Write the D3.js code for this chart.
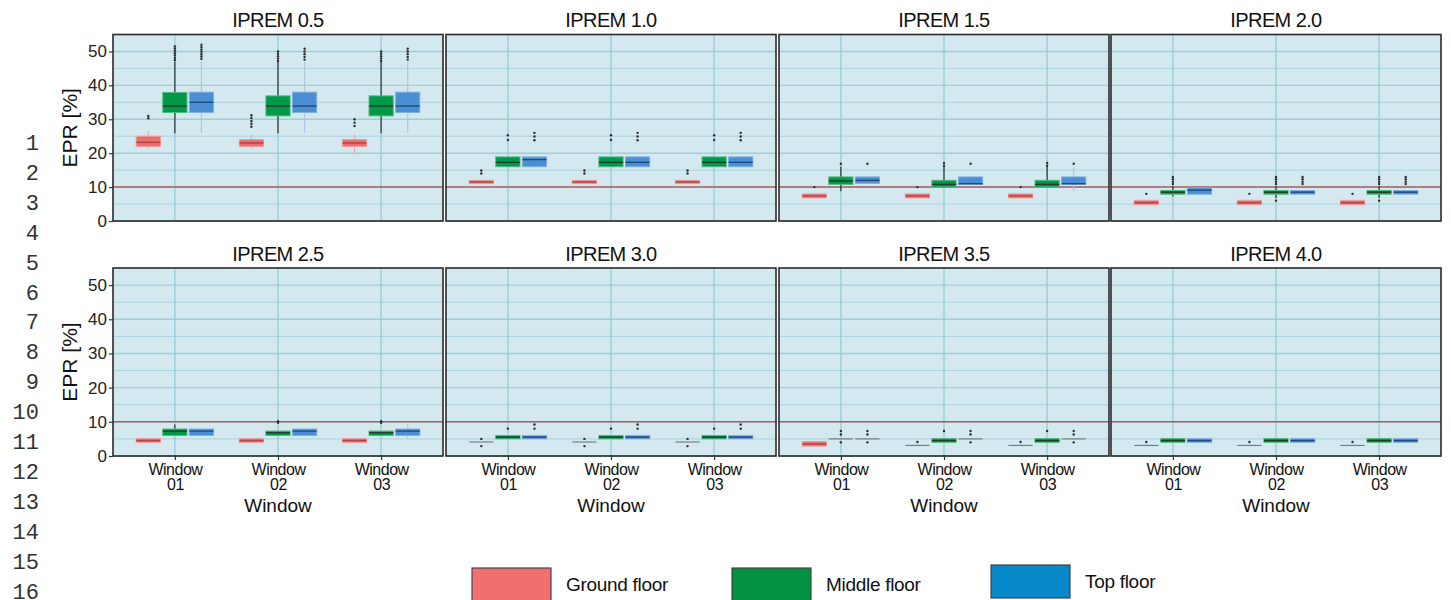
<!DOCTYPE html>
<html><head><meta charset="utf-8">
<script src="https://cdn.jsdelivr.net/npm/d3@7"></script>
<style>
body{margin:0;background:#fff;}
svg{display:block;font-family:"Liberation Sans",Arial,sans-serif;}
</style>
</head><body>
<svg id="c" width="1451" height="600"></svg>
<script>
// ---------------- DATA ----------------
const panelTitles = ["IPREM 0.5","IPREM 1.0","IPREM 1.5","IPREM 2.0","IPREM 2.5","IPREM 3.0","IPREM 3.5","IPREM 4.0"];
const windowLabels = ["Window 01","Window 02","Window 03"];
const floors = ["Ground floor","Middle floor","Top floor"];
const yTicks = [0,10,20,30,40,50];
const minorTicks = [5,15,25,35,45];
const threshold = 10;
const lineNumbers = ["1","2","3","4","5","6","7","8","9","10","11","12","13","14","15","16"];

// stats per panel -> per window: [whiskerLow, q1, median, q3, whiskerHigh]
const groundStats = [
  [[21.5,22,23.2,25,26.5],[21.5,22,23,24,25.5],[20,22,23,24,25.5]],
  [[11,11,11.5,12,12],[11,11,11.5,12,12],[11,11,11.5,12,12]],
  [[6.8,6.8,7.4,8,8],[6.8,6.8,7.4,8,8],[6.8,6.8,7.4,8,8]],
  [[4.8,4.8,5.4,6.1,6.1],[4.8,4.8,5.4,6.1,6.1],[4.8,4.8,5.4,6.1,6.1]],
  [[4,4,4.5,5.1,5.1],[4,4,4.5,5.1,5.1],[4,4,4.5,5.1,5.1]],
  [[4.1,4.1,4.1,4.1,4.1],[4.1,4.1,4.1,4.1,4.1],[4.1,4.1,4.1,4.1,4.1]],
  [[2.9,2.9,3.5,4.2,4.2],[3.1,3.1,3.1,3.1,3.1],[3.1,3.1,3.1,3.1,3.1]],
  [[3.1,3.1,3.1,3.1,3.1],[3.1,3.1,3.1,3.1,3.1],[3.1,3.1,3.1,3.1,3.1]]
];
const middleStats = [
  [[25.9,32,33.9,37.9,46.9],[25.9,31,33.9,36.9,46.9],[25.9,31,33.9,36.9,46.9]],
  [[16,16,17.3,18.9,18.9],[16,16,17.3,18.9,18.9],[16,16,17.3,18.9,18.9]],
  [[8.8,10.8,11.8,13,16.1],[10,10,10.8,12,16.1],[10,10,10.8,12,16.1]],
  [[7.2,7.9,8.5,9,10.3],[6.8,7.9,8.5,9,10.3],[6.8,7.9,8.5,9,10.3]],
  [[6,6,7.3,7.9,9.2],[6,6,6.8,7.3,7.3],[6,6,6.8,7.3,7.3]],
  [[5,5,5.5,6,6],[5,5,5.5,6,6],[5,5,5.5,6,6]],
  [[5,5,5,5,5],[4,4,4.5,5.1,5.1],[4,4,4.5,5.1,5.1]],
  [[4,4,4.5,5.1,5.1],[4,4,4.5,5.1,5.1],[4,4,4.5,5.1,5.1]]
];
const topStats = [
  [[26,32,35,38,47],[26,32,33.9,38,47],[26,32,33.9,38,47]],
  [[16,16,18.1,18.9,18.9],[16,16,17.3,18.9,18.9],[16,16,17.3,18.9,18.9]],
  [[11.1,11.1,12,13,13],[10.8,10.8,11,13,13],[8.8,10.8,11,13,16.1]],
  [[7.9,7.9,9.1,9.8,9.8],[7.9,7.9,8.5,9,9],[7.9,7.9,8.5,9,9]],
  [[6,6,7.3,7.9,7.9],[6,6,7.3,7.9,7.9],[5,6,7.3,7.9,9.2]],
  [[5,5,5.5,6,6],[5,5,5.5,6,6],[5,5,5.5,6,6]],
  [[5,5,5,5,5],[5,5,5,5,5],[5,5,5,5,5]],
  [[4,4,4.5,5.1,5.1],[4,4,4.5,5.1,5.1],[4,4,4.5,5.1,5.1]]
];
// outliers per panel -> per window
const groundOut = [
  [[30.3,31],[27.8,28.7,29.5,30.4,31.2],[28,29,30]],
  [[14,14.9],[14,14.9],[14,14.9]],
  [[10],[10],[10]],
  [[8],[8],[8]],
  [[],[],[]],
  [[2.9,5],[2.9,5],[2.9,5]],
  [[],[4.1],[4.1]],
  [[4.1],[4.1],[4.1]]
];
const middleOut = [
  [[47.4,48.1,48.8,49.5,50.2,50.9,51.5],[47.2,47.9,48.6,49.3,50],[47.2,47.9,48.6,49.3,50]],
  [[23.9,25.3],[23.9,25.3],[23.9,25.3]],
  [[16.9],[16.3,17.1],[16.3,17.1]],
  [[10.9,11.6,12.3,13],[6,10.9,11.6,12.3,13],[6,10.9,11.6,12.3,13]],
  [[],[9.7,10.2],[9.7,10.2]],
  [[8],[8],[8]],
  [[4,6.3,7.3],[7.3],[7.3]],
  [[],[],[]]
];
const topOut = [
  [[47.8,48.5,49.2,49.9,50.6,51.3,52],[47.6,48.4,49.2,50,50.8],[47.6,48.4,49.2,50,50.8]],
  [[23.8,24.9,26],[23.8,24.9,26],[23.8,24.9,26]],
  [[16.9],[16.9],[16.9]],
  [[],[10.9,11.6,12.3,13],[10.9,11.6,12.3,13]],
  [[],[],[]],
  [[8,9.2],[8,9.2],[8,9.2]],
  [[4,6.3,7.3],[4,6.3,7.3],[4,6.3,7.3]],
  [[],[],[]]
];

// ---------------- STYLE ----------------
const floorStats = [groundStats, middleStats, topStats];
const floorOut = [groundOut, middleOut, topOut];
const boxFill = ["#ec6b6e","#00994a","#4a8fd3"];
const boxEdge = ["#f29a9c","#4dbb7c","#7fb0e0"];
const medianCol = ["#a84848","#1f3d2c","#1f4b7c"];
const whiskerCol = ["#e2aab0","#24382c","#a9c8e0"];
const legendFill = ["#f07070","#009240","#0788c8"];

const svg = d3.select("#c");
const panelLeft = [113, 446, 779, 1111];
const PW = 330;
const rowTop = [34.5, 268], rowBottom = [221, 456];

panelTitles.forEach((title, p) => {
  const row = Math.floor(p / 4), col = p % 4;
  const x0 = panelLeft[col], top = rowTop[row], bottom = rowBottom[row];
  const x = d3.scalePoint().domain(windowLabels).range([x0, x0 + PW]).padding(0.6);
  const dodge = d3.scaleBand().domain(floors)
    .range([-0.375 * x.step(), 0.375 * x.step()]).paddingInner(0.09);
  const y = d3.scaleLinear().domain([0, 55]).range([bottom, top]);
  const g = svg.append("g");

  g.append("rect").attr("x", x0).attr("y", top).attr("width", PW).attr("height", bottom - top)
    .attr("fill", "#d3e9ef");
  g.selectAll(".mn").data(minorTicks).join("line")
    .attr("x1", x0).attr("x2", x0 + PW).attr("y1", d => y(d)).attr("y2", d => y(d))
    .attr("stroke", "#a9d3dd").attr("stroke-width", 1);
  g.selectAll(".mj").data(yTicks).join("line")
    .attr("x1", x0).attr("x2", x0 + PW).attr("y1", d => y(d)).attr("y2", d => y(d))
    .attr("stroke", "#9fcdd9").attr("stroke-width", 1.4);
  g.selectAll(".vg").data(windowLabels).join("line")
    .attr("x1", d => x(d)).attr("x2", d => x(d)).attr("y1", top).attr("y2", bottom)
    .attr("stroke", "#8fc9d6").attr("stroke-width", 1.2);
  g.append("line").attr("x1", x0).attr("x2", x0 + PW)
    .attr("y1", y(threshold)).attr("y2", y(threshold))
    .attr("stroke", "#b35c5f").attr("stroke-width", 1.5);

  floors.forEach((f, fi) => {
    const bw = dodge.bandwidth();
    windowLabels.forEach((w, wi) => {
      const s = floorStats[fi][p][wi];
      const cx = x(w) + dodge(f) + bw / 2;
      const collapsed = s[1] === s[3];
      g.append("line").attr("x1", cx).attr("x2", cx).attr("y1", y(s[0])).attr("y2", y(s[4]))
        .attr("stroke", whiskerCol[fi]).attr("stroke-width", 1.2);
      if (!collapsed) {
        g.append("rect").attr("x", cx - bw / 2).attr("width", bw)
          .attr("y", y(s[3])).attr("height", y(s[1]) - y(s[3]))
          .attr("fill", boxFill[fi]).attr("stroke", boxEdge[fi]).attr("stroke-width", 1);
      }
      g.append("line").attr("x1", cx - bw / 2).attr("x2", cx + bw / 2)
        .attr("y1", y(s[2])).attr("y2", y(s[2]))
        .attr("stroke", collapsed ? "#6a6a6a" : medianCol[fi]).attr("stroke-width", collapsed ? 1 : 1.4);
      g.selectAll(null).data(floorOut[fi][p][wi]).join("circle")
        .attr("cx", cx).attr("cy", d => y(d)).attr("r", 1.2).attr("fill", "#2e2e2e");
    });
  });

  g.append("rect").attr("x", x0).attr("y", top).attr("width", PW).attr("height", bottom - top)
    .attr("fill", "none").attr("stroke", "#2a2a2a").attr("stroke-width", 1.6);

  g.append("text").attr("x", x0 + PW / 2).attr("y", row === 0 ? 27 : 261)
    .attr("text-anchor", "middle").attr("font-size", 20).attr("letter-spacing", -0.6)
    .attr("fill", "#111").text(title);

  if (col === 0) {
    const ax = g.append("g").attr("transform", `translate(${x0},0)`)
      .call(d3.axisLeft(y).tickValues(yTicks).tickSize(4).tickPadding(2));
    ax.select(".domain").remove();
    ax.selectAll(".tick line").attr("stroke", "#333").attr("stroke-width", 1.2);
    ax.selectAll(".tick text").attr("font-size", 17).attr("fill", "#222")
      .attr("font-family", "Liberation Sans, Arial, sans-serif");
    g.append("text").attr("transform", `translate(77,${(top + bottom) / 2}) rotate(-90)`)
      .attr("text-anchor", "middle").attr("font-size", 21).attr("fill", "#111").text("EPR [%]");
  }
  if (row === 1) {
    const ax = g.append("g").attr("transform", `translate(0,${bottom})`)
      .call(d3.axisBottom(x).tickSize(4).tickPadding(3));
    ax.select(".domain").remove();
    ax.selectAll(".tick line").attr("stroke", "#333").attr("stroke-width", 1.2);
    ax.selectAll(".tick text").each(function (d) {
      const t = d3.select(this);
      t.text(null).attr("font-size", 16).attr("fill", "#111").attr("letter-spacing", -0.5)
        .attr("font-family", "Liberation Sans, Arial, sans-serif").attr("dy", null);
      d.split(" ").forEach((part, i) => {
        t.append("tspan").attr("x", 0).attr("y", i === 0 ? 19 : 34).text(part);
      });
    });
    g.append("text").attr("x", x0 + PW / 2).attr("y", 512).attr("text-anchor", "middle")
      .attr("font-size", 19).attr("fill", "#111").text("Window");
  }
});

// line numbers
svg.selectAll(".ln").data(lineNumbers).join("text")
  .attr("x", 39).attr("y", (d, i) => 150 + i * 29.9)
  .attr("text-anchor", "end").attr("font-family", "Liberation Mono, monospace")
  .attr("font-size", 22).attr("fill", "#333").text(d => d);

// legend
const legX = [472, 732, 991];
const legY = [568, 568, 565];
floors.forEach((f, i) => {
  svg.append("rect").attr("x", legX[i]).attr("y", legY[i]).attr("width", 79).attr("height", 33)
    .attr("fill", legendFill[i]).attr("stroke", "#444").attr("stroke-width", 1.2);
  svg.append("text").attr("x", legX[i] + 94).attr("y", i === 2 ? 588 : 591)
    .attr("font-size", 19).attr("letter-spacing", -0.3).attr("fill", "#111").text(f);
});
</script>
</body></html>
